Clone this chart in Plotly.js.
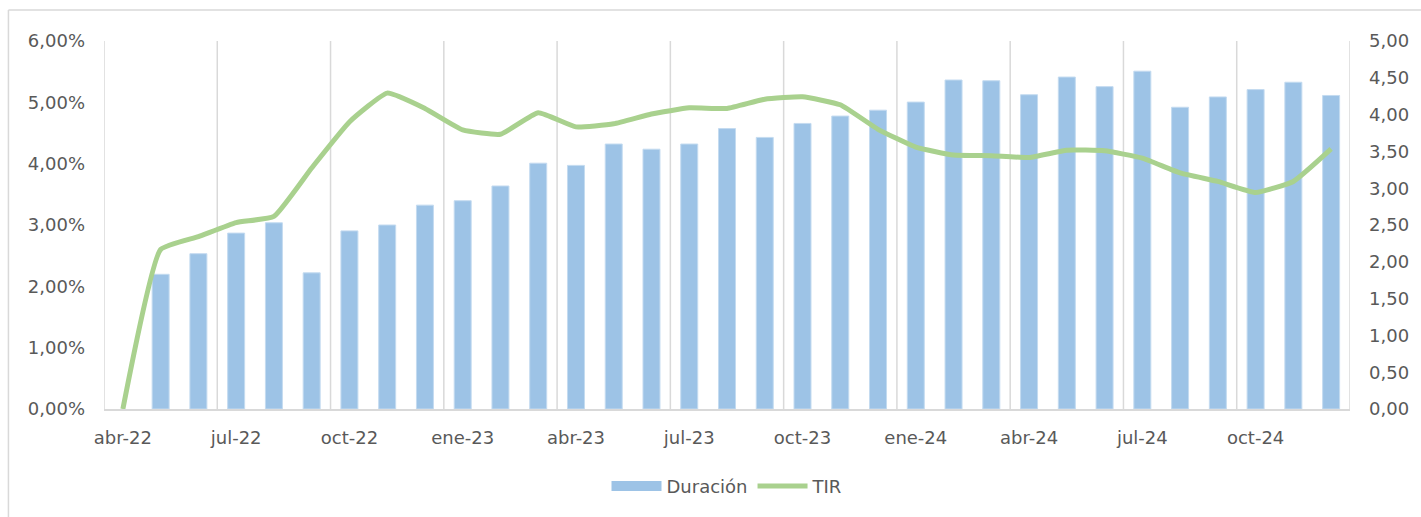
<!DOCTYPE html>
<html><head><meta charset="utf-8">
<script src="https://cdn.plot.ly/plotly-3.0.1.min.js"></script>
<style>html,body{margin:0;padding:0;background:#fff;}#chart{width:1421px;height:517px;}
.legend .traces{opacity:1 !important;}</style>
</head><body><div id="chart"></div>
<script>
var months = ["abr-22","may-22","jun-22","jul-22","ago-22","sep-22","oct-22","nov-22","dic-22",
  "ene-23","feb-23","mar-23","abr-23","may-23","jun-23","jul-23","ago-23","sep-23","oct-23","nov-23","dic-23",
  "ene-24","feb-24","mar-24","abr-24","may-24","jun-24","jul-24","ago-24","sep-24","oct-24","nov-24","dic-24"];
var duracion = [null,1.83,2.11,2.39,2.53,1.85,2.42,2.50,2.77,
  2.83,3.03,3.34,3.31,3.60,3.53,3.60,3.81,3.69,3.88,3.98,4.06,
  4.17,4.47,4.46,4.27,4.51,4.38,4.59,4.10,4.24,4.34,4.44,4.26];
var tir = [0.0000,0.0260,0.0281,0.0304,0.0314,0.0393,0.0468,0.0515,0.0490,
  0.0455,0.0448,0.0483,0.0460,0.0465,0.0481,0.0491,0.0490,0.0505,0.0509,0.0496,0.0456,
  0.0427,0.0414,0.0413,0.0410,0.0422,0.0421,0.0409,0.0385,0.0371,0.0353,0.0371,0.0424];
var tickLabels = ["abr-22","jul-22","oct-22","ene-23","abr-23","jul-23","oct-23","ene-24","abr-24","jul-24","oct-24"];

var FONT = "'DejaVu Sans', sans-serif";
var FS = 18;
var GRID = "#d9d9d9";
var shapes = [];
for (var b = -0.5; b <= months.length - 0.5; b += 3) {
  shapes.push({type:"line", xref:"x", yref:"paper", x0:b, x1:b, y0:0, y1:1, line:{color:GRID, width:1.5}, layer:"below"});
}
shapes.push({type:"line", xref:"paper", yref:"paper", x0:-0.0767, x1:1.3, y0:1.0841, y1:1.0841, line:{color:GRID, width:1.5}});
shapes.push({type:"line", xref:"paper", yref:"paper", x0:-0.0767, x1:-0.0767, y0:1.0841, y1:-0.5, line:{color:GRID, width:1.5}});

var traces = [
  {type:"bar", name:"Duración", x:months, y:duracion, yaxis:"y", width:0.45, showlegend:false,
   marker:{color:"#9dc3e6", line:{color:"#c4dbf0", width:1}}},
  {type:"scatter", mode:"lines", name:"Duración", x:months, y:duracion, yaxis:"y", visible:"legendonly",
   line:{color:"#9dc3e6", width:13}},
  {type:"scatter", mode:"lines", name:"TIR", x:months, y:tir, yaxis:"y2",
   line:{color:"#a9d18e", width:5, shape:"spline", smoothing:0.4}}
];
var layout = {
  width:1421, height:517,
  margin:{l:103.5, r:71, t:41, b:107.5},
  paper_bgcolor:"#fff", plot_bgcolor:"rgba(0,0,0,0)",
  separators:",.",
  font:{family:FONT, size:FS, color:"#595959"},
  showlegend:true,
  legend:{orientation:"h", x:0.5, xanchor:"center", y:-0.21, yanchor:"middle", itemclick:false,
          font:{family:FONT, size:FS, color:"#595959"}, traceorder:"normal", itemwidth:50},
  xaxis:{type:"category", range:[-0.5, months.length-0.5], tickmode:"array", tickvals:tickLabels, ticktext:tickLabels,
         showgrid:false, zeroline:false, showline:true, linecolor:GRID, linewidth:1.5, ticks:"", ticklabelstandoff:12,
         tickfont:{family:FONT, size:FS, color:"#595959"}},
  yaxis:{side:"right", range:[0,5], dtick:0.5, tick0:0, tickformat:".2f", showgrid:false, zeroline:false,
         showline:false, ticks:"", ticklabelstandoff:18, tickfont:{family:FONT, size:FS, color:"#595959"}},
  yaxis2:{overlaying:"y", side:"left", range:[0,0.06], dtick:0.01, tick0:0, tickformat:".2%", showgrid:false,
          zeroline:false, showline:false, ticks:"", ticklabelstandoff:18, tickfont:{family:FONT, size:FS, color:"#595959"}},
  shapes:shapes,
  bargap:0.55
};
Plotly.newPlot("chart", traces, layout, {displayModeBar:false, staticPlot:true});
</script>
</body></html>
